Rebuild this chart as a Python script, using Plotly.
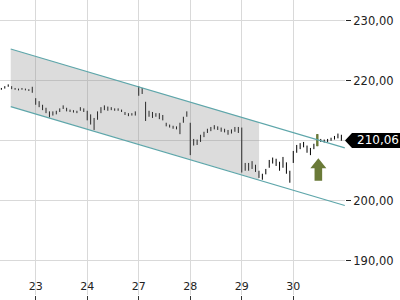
import plotly.graph_objects as go

# ---- data -------------------------------------------------------------
day_labels = ["22", "23", "24", "27", "28", "29", "30"]
bars_per_day = 15
first_slot = [5, 0, 0, 0, 0, 0, 0]  # first visible bar slot for each day

bar_low = [
    # 22
    218.5, 218.7, 219.0, 218.6, 218.5, 218.4, 218.5, 218.4, 218.3, 218.0,
    # 23
    216.0, 215.6, 215.1, 214.6, 213.9, 214.2, 214.4, 214.8, 215.3, 214.9,
    214.8, 214.7, 214.6, 215.0, 214.8,
    # 24
    213.4, 212.7, 211.8, 213.5, 214.6, 215.1, 215.0, 215.1, 215.0, 215.0,
    214.8, 214.3, 214.1, 214.2, 214.2,
    # 27
    217.5, 217.8, 213.3, 214.0, 213.8, 214.0, 213.6, 213.4, 212.4, 212.2,
    212.0, 211.9, 211.1, 213.0, 214.0,
    # 28
    207.6, 209.2, 209.3, 209.8, 210.6, 211.3, 211.6, 211.9, 211.8, 211.5,
    211.4, 211.0, 211.2, 211.5, 211.3,
    # 29
    204.7, 205.0, 205.0, 205.3, 204.8, 203.8, 203.5, 204.4, 205.5, 206.2,
    205.8, 205.0, 205.5, 204.5, 203.0,
    # 30
    206.3, 208.0, 208.6, 208.9, 208.0, 207.6, 208.6, 209.1, 209.8, 209.7,
    209.8, 210.0, 210.2, 210.4, 210.0,
]
bar_high = [
    # 22
    218.8, 219.1, 219.4, 219.1, 218.8, 218.7, 218.8, 218.7, 218.6, 219.0,
    # 23
    217.1, 216.6, 216.0, 215.5, 214.9, 214.9, 215.0, 215.4, 215.9, 215.5,
    215.2, 215.1, 215.0, 215.6, 215.4,
    # 24
    215.0, 214.4, 213.8, 214.9, 215.6, 215.9, 215.7, 215.6, 215.4, 215.4,
    215.2, 214.8, 214.6, 214.6, 214.9,
    # 27
    219.1, 218.8, 216.5, 215.0, 214.8, 214.6, 214.6, 214.3, 213.0, 212.7,
    212.5, 212.4, 213.0, 214.0, 214.9,
    # 28
    213.0, 210.3, 210.2, 211.0, 211.5, 212.0, 212.3, 212.6, 212.4, 212.2,
    212.0, 211.8, 211.9, 212.3, 212.3,
    # 29
    212.2, 206.3, 206.3, 206.6, 206.0, 205.0, 204.5, 205.3, 206.8, 207.2,
    207.0, 206.5, 207.3, 206.4, 205.0,
    # 30
    208.3, 209.3, 209.6, 209.8, 209.2, 208.8, 209.5, 211.1, 210.3, 210.2,
    210.3, 210.5, 210.8, 211.2, 211.0,
]
signal_index = 7 + 10 + 15 * 5  # highlighted bar on day 30
last_price = 210.06
last_price_text = "210,06"

channel_x = [0.515, 7.0]
channel_upper = [225.3, 208.8]
channel_lower = [215.7, 199.2]
shade_x = [0.515, 5.336]
shade_upper = [225.3, 213.1]
shade_lower = [215.7, 203.5]

tick_vals = [1, 2, 3, 4, 5, 6]
tick_text = day_labels[1:]
y_ticks = [190, 200, 210, 220, 230]
y_tick_text = ["190,00", "200,00", "", "220,00", "230,00"]

x_range = [0.307, 7.004]
y_range = [184.28, 233.47]

# ---- build bar x positions -------------------------------------------
bar_x = []
for d, start in enumerate(first_slot):
    for s in range(start, bars_per_day):
        bar_x.append(d + s / bars_per_day)

teal = "#5ea6aa"
olive = "#6a7a38"

fig = go.Figure()

# shaded channel area
fig.add_trace(go.Scatter(
    x=shade_x + shade_x[::-1], y=shade_upper + shade_lower[::-1],
    fill="toself", fillcolor="rgba(140,140,140,0.30)",
    line=dict(width=0), mode="lines", hoverinfo="skip", showlegend=False))

# channel lines
for ys in (channel_upper, channel_lower):
    fig.add_trace(go.Scatter(x=channel_x, y=ys, mode="lines",
                             line=dict(color=teal, width=1.2),
                             showlegend=False, hoverinfo="skip"))

# price bars
fig.add_trace(go.Ohlc(
    x=bar_x, open=bar_low, high=bar_high, low=bar_low, close=bar_high,
    increasing=dict(line=dict(color="black", width=1.0)),
    decreasing=dict(line=dict(color="black", width=1.0)),
    tickwidth=0, showlegend=False))

# signal bar
i = signal_index
fig.add_trace(go.Ohlc(
    x=[bar_x[i]], open=[bar_low[i]], high=[bar_high[i]], low=[bar_low[i]],
    close=[bar_high[i]],
    increasing=dict(line=dict(color=olive, width=2.4)),
    decreasing=dict(line=dict(color=olive, width=2.4)),
    tickwidth=0, showlegend=False))

shapes = [
    # up arrow below the signal bar
    dict(type="path", xref="x", yref="y", xsizemode="pixel", ysizemode="pixel",
         xanchor=bar_x[i] + 0.02, yanchor=bar_low[i],
         path="M0,-12 L8,-22 L3.8,-22 L3.8,-34.5 L-3.8,-34.5 L-3.8,-22 L-8,-22 Z",
         fillcolor=olive, line=dict(width=0)),
    # last price marker
    dict(type="path", xref="paper", yref="y", xsizemode="pixel", ysizemode="pixel",
         xanchor=1, yanchor=last_price,
         path="M0,0 L7,7.5 L60,7.5 L60,-7.5 L7,-7.5 Z",
         fillcolor="black", line=dict(width=0)),
]

fig.update_layout(
    width=400, height=300,
    margin=dict(l=0, r=55, t=0, b=5),
    paper_bgcolor="white", plot_bgcolor="white",
    font=dict(family="DejaVu Sans", color="#222222"),
    separators=",.",
    shapes=shapes,
    annotations=[dict(xref="paper", yref="y", x=1, y=last_price,
                      xanchor="left", yanchor="middle", xshift=10,
                      text=last_price_text, showarrow=False,
                      font=dict(color="white", size=12, family="DejaVu Sans"))],
    xaxis=dict(range=x_range, tickvals=tick_vals, ticktext=tick_text,
               showgrid=True, gridcolor="#d9d9d9", gridwidth=1,
               zeroline=False, showline=False,
               ticks="outside", ticklen=5, tickcolor="#333333",
               ticklabelposition="inside",
               tickfont=dict(size=11, color="#222222"),
               rangeslider=dict(visible=False)),
    yaxis=dict(range=y_range, side="right", tickvals=y_ticks,
               ticktext=y_tick_text,
               showgrid=True, gridcolor="#d9d9d9", gridwidth=1,
               zeroline=False, showline=False,
               ticks="outside", ticklen=5, tickcolor="#222222",
               tickfont=dict(size=11.5, color="#222222")),
)

fig.write_html("out.html")
